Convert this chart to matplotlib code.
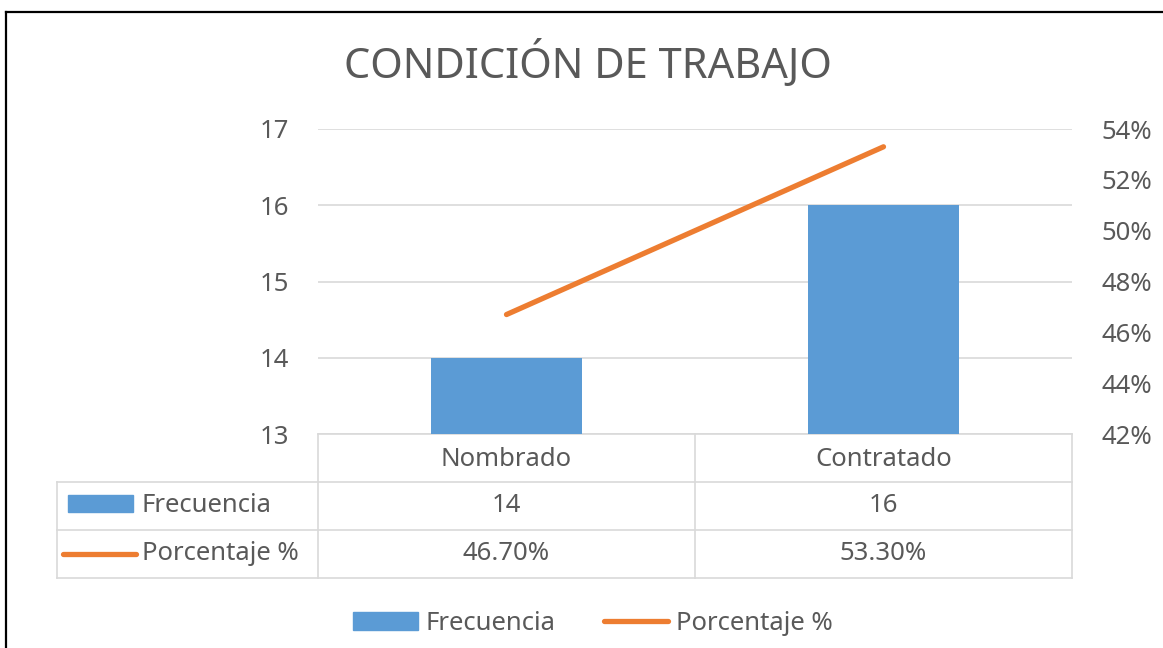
import matplotlib.pyplot as plt
from matplotlib.lines import Line2D
from matplotlib.patches import Rectangle
import numpy as np

categories = ["Nombrado", "Contratado"]
frecuencia = [14, 16]
porcentaje = [46.7, 53.3]
pct_labels = ["46.70%", "53.30%"]
series_names = ["Frecuencia", "Porcentaje %"]
title = "CONDICIÓN DE TRABAJO"

BLUE = "#5b9bd5"
ORANGE = "#ed7d31"
TEXT = "#595959"
GRID = "#d9d9d9"

plt.rcParams["font.family"] = ["Noto Sans", "DejaVu Sans"]

W, H = 1163, 648
fig = plt.figure(figsize=(W / 100, H / 100), dpi=100)

# plot area in pixels: x 318..1072, y 129..434
L, R, T, B = 318, 1072, 129, 434
ax = fig.add_axes([L / W, 1 - B / H, (R - L) / W, (B - T) / H])
ax2 = ax.twinx()

x = np.arange(len(categories))
ax.bar(x, frecuencia, width=0.4, color=BLUE, zorder=3)
ax.set_xlim(-0.5, len(categories) - 0.5)
ax.set_ylim(13, 17)
ax.set_yticks([13, 14, 15, 16, 17])
ax.yaxis.grid(True, color=GRID, lw=1.2, zorder=0)
ax.set_axisbelow(True)
ax.set_xticks([])

ax2.plot(x, porcentaje, color=ORANGE, lw=3.8, solid_capstyle="round", zorder=4)
ax2.set_ylim(42, 54)
ax2.set_yticks(range(42, 55, 2))
ax2.set_yticklabels([f"{v}%" for v in range(42, 55, 2)])

fs = 18.5
for a in (ax, ax2):
    for s in a.spines.values():
        s.set_visible(False)
    a.tick_params(length=0, labelsize=fs, labelcolor=TEXT)
ax.tick_params(axis="y", pad=21)
ax2.tick_params(axis="y", pad=21)

# data table under the plot
tr = ax.transAxes
def px_y(py):
    return (B - py) / (B - T)
left_col = (57 - L) / (R - L)
row_y = [434, 482, 530, 578]
kw = dict(color=GRID, lw=1.2, transform=tr, clip_on=False)
ax.add_line(Line2D([0, 1], [px_y(434)] * 2, **kw))
for py in row_y[1:]:
    ax.add_line(Line2D([left_col, 1], [px_y(py)] * 2, **kw))
for xc in [0, 0.5, 1]:
    ax.add_line(Line2D([xc, xc], [px_y(434), px_y(578)], **kw))
ax.add_line(Line2D([left_col, left_col], [px_y(482), px_y(578)], **kw))

for i, cat in enumerate(categories):
    xc = (i + 0.5) / len(categories)
    ax.text(xc, px_y(459), cat, transform=tr, ha="center", va="center",
            fontsize=fs, color=TEXT, clip_on=False)
    ax.text(xc, px_y(505), str(frecuencia[i]), transform=tr, ha="center",
            va="center", fontsize=fs, color=TEXT, clip_on=False)
    ax.text(xc, px_y(553), pct_labels[i], transform=tr, ha="center",
            va="center", fontsize=fs, color=TEXT, clip_on=False)

# row header keys
fig.patches.append(Rectangle((68 / W, 1 - 512 / H), 65 / W, 17 / H,
                             color=BLUE, transform=fig.transFigure))
fig.lines.append(Line2D([63 / W, 136 / W], [1 - 554 / H] * 2, color=ORANGE,
                        lw=3.8, solid_capstyle="round", transform=fig.transFigure))
fig.text(142 / W, 1 - 505 / H, series_names[0], fontsize=fs, color=TEXT,
         ha="left", va="center")
fig.text(142 / W, 1 - 553 / H, series_names[1], fontsize=fs, color=TEXT,
         ha="left", va="center")

fig.text(588 / W, 1 - 64 / H, title, fontsize=30, color=TEXT,
         ha="center", va="center")

# legend
handles = [Rectangle((0, 0), 1, 1, color=BLUE),
           Line2D([0], [0], color=ORANGE, lw=3.8, solid_capstyle="round")]
fig.legend(handles, series_names, loc="center", ncol=2,
           bbox_to_anchor=(593 / W, 1 - 623 / H), frameon=False,
           fontsize=fs, labelcolor=TEXT, handlelength=2.5, handleheight=0.7,
           handletextpad=0.3, columnspacing=1.9)

# outer border (top and left only visible in the frame)
fig.lines.append(Line2D([6 / W, 1.01], [1 - 12 / H] * 2, color="black",
                        lw=1.6, transform=fig.transFigure))
fig.lines.append(Line2D([6 / W, 6 / W], [1 - 12 / H, -0.01], color="black",
                        lw=1.6, transform=fig.transFigure))

fig.savefig("out.png", dpi=100)
